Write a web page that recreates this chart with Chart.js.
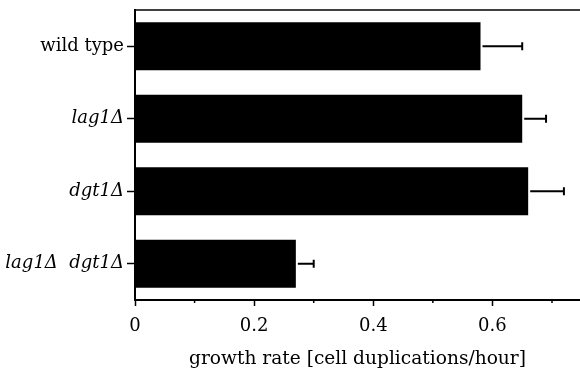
<!DOCTYPE html>
<html>
<head>
<meta charset="utf-8">
<script src="https://cdn.jsdelivr.net/npm/chart.js@4"></script>
<style>
  html, body { margin: 0; padding: 0; background: #fff; }
  #wrap { width: 580px; height: 376px; }
</style>
</head>
<body>
<div id="wrap"><canvas id="growth"></canvas></div>
<script>
  // strains and growth rates
  const strains = ['wild type', 'lag1Δ', 'dgt1Δ', 'lag1Δ  dgt1Δ'];
  const growthRate = [0.58, 0.65, 0.66, 0.27];
  const growthErr = [0.07, 0.04, 0.06, 0.03];
  const majorTicks = [0, 0.2, 0.4, 0.6];
  const minorTicks = [0.1, 0.3, 0.5, 0.7];

  const serif = '"DejaVu Serif", serif';

  // one-sided error bars + top frame line + minor ticks
  const extras = {
    id: 'extras',
    afterDatasetsDraw(chart) {
      const ctx = chart.ctx;
      const x = chart.scales.x;
      const y = chart.scales.y;
      const area = chart.chartArea;
      ctx.save();
      ctx.strokeStyle = '#000';

      ctx.lineWidth = 2;
      growthRate.forEach((v, i) => {
        const cy = y.getPixelForValue(i);
        const x0 = x.getPixelForValue(v) + 2;
        const x1 = x.getPixelForValue(v + growthErr[i]);
        ctx.beginPath();
        ctx.moveTo(x0, cy);
        ctx.lineTo(x1, cy);
        ctx.moveTo(x1, cy - 4);
        ctx.lineTo(x1, cy + 4);
        ctx.stroke();
      });

      ctx.lineWidth = 1.5;
      ctx.beginPath();
      ctx.moveTo(area.left, area.top);
      ctx.lineTo(area.right, area.top);
      ctx.stroke();

      minorTicks.forEach(v => {
        const px = x.getPixelForValue(v);
        ctx.beginPath();
        ctx.moveTo(px, area.bottom);
        ctx.lineTo(px, area.bottom + 3);
        ctx.stroke();
      });
      ctx.restore();
    }
  };

  new Chart(document.getElementById('growth'), {
    type: 'bar',
    data: {
      labels: strains,
      datasets: [{
        data: growthRate,
        backgroundColor: '#000',
        borderWidth: 0,
        categoryPercentage: 1,
        barPercentage: 0.66
      }]
    },
    options: {
      indexAxis: 'y',
      responsive: true,
      maintainAspectRatio: false,
      animation: false,
      layout: { padding: { top: 10, right: 0, bottom: 0, left: 0 } },
      plugins: {
        legend: { display: false },
        tooltip: { enabled: false }
      },
      scales: {
        x: {
          min: 0,
          max: 0.747,
          afterBuildTicks: scale => {
            scale.ticks = majorTicks.map(v => ({ value: v }));
          },
          afterFit: scale => { scale.height = 76; scale.paddingLeft = 0; scale.paddingRight = 0; },
          grid: {
            drawOnChartArea: false,
            drawTicks: true,
            tickLength: 6,
            tickWidth: 1.5,
            tickColor: '#000'
          },
          border: { display: true, color: '#000', width: 2 },
          ticks: {
            color: '#000',
            padding: 10,
            font: { family: serif, size: 18 },
            callback: v => (v === 0 ? '0' : v.toFixed(1))
          },
          title: {
            display: true,
            text: 'growth rate [cell duplications/hour]',
            color: '#000',
            font: { family: serif, size: 18.6 },
            padding: { top: 0, bottom: 6 }
          }
        },
        y: {
          afterFit: scale => { scale.width = 135; scale.paddingTop = 0; scale.paddingBottom = 0; },
          grid: {
            offset: false,
            drawOnChartArea: false,
            drawTicks: true,
            tickLength: 8,
            tickWidth: 1.5,
            tickColor: '#000'
          },
          border: { display: true, color: '#000', width: 2 },
          ticks: {
            color: '#000',
            padding: 3,
            font: ctx => ({ family: serif, size: 18, style: ctx.index === 0 ? 'normal' : 'italic' })
          }
        }
      }
    },
    plugins: [extras]
  });
</script>
</body>
</html>
